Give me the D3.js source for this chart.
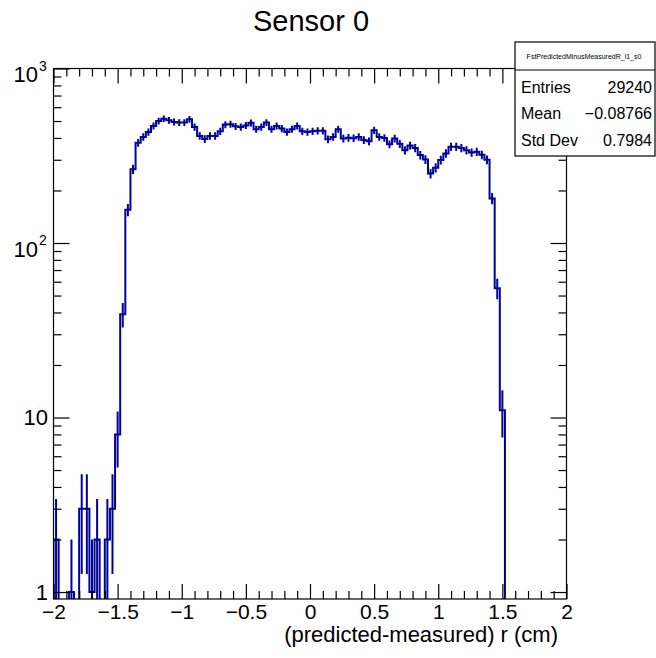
<html>
  <head>
    <meta http-equiv="Content-Type" content="text/html; charset=UTF-8" />
    <title>Sensor 0</title>
    <script src="https://d3js.org/d3.v7.min.js"></script>
    <style>
      body { margin: 0; background: #ffffff; }
      text { font-family: "Liberation Sans", Arial, Helvetica, sans-serif; fill: #000; }
    </style>
  </head>
  <body>
    <div id="chart"></div>
    <script type="text/javascript">
    // histogram: 100 bins between -2 and 2 (cm)
    var binLow = -2, binHigh = 2;
    var counts = [
      2, 0, 0, 1, 0, 3, 3, 1, 2, 0,
      2, 3, 8, 39, 155, 265, 375, 405, 433, 469,
      500, 516, 505, 494, 490, 490, 512, 462, 411, 394,
      411, 411, 437, 477, 480, 466, 462, 472, 488, 449,
      462, 490, 449, 469, 453, 433, 449, 469, 437, 433,
      437, 440, 440, 393, 405, 449, 397, 401, 399, 405,
      389, 383, 443, 405, 400, 368, 397, 370, 340, 362,
      350, 319, 301, 250, 270, 299, 326, 356, 356, 350,
      340, 330, 333, 320, 300, 180, 55, 11, 0, 0,
      0, 0, 0, 0, 0, 0, 0, 0, 0, 0
    ];

    var xMajorTicks = [-2, -1.5, -1, -0.5, 0, 0.5, 1, 1.5, 2];
    var xTickLabels = ["\u22122", "\u22121.5", "\u22121", "\u22120.5", "0", "0.5", "1", "1.5", "2"];
    var yMajorTicks = [1, 10, 100, 1000];
    var yTickBase = ["1", "10", "10", "10"];
    var yTickExp = ["", "", "2", "3"];

    var histName = "FstPredictedMinusMeasuredR_l1_s0";
    var statNames = ["Entries", "Mean", "Std Dev"];
    var statValues = ["29240", "\u22120.08766", "0.7984"];

    var W = 656, H = 658;
    var pLeft = 53.5, pRight = 566.5, pTop = 68.5, pBottom = 599;
    var yMin = 0.912, yMax = 1000;
    var lineColor = "#00009a";

    var svg = d3.select("#chart").append("svg")
      .attr("width", W)
      .attr("height", H);

    var x = d3.scaleLinear().domain([binLow, binHigh]).range([pLeft, pRight]);
    var y = d3.scaleLog().domain([yMin, yMax]).range([pBottom, pTop]);

    // title
    svg.append("text")
      .attr("x", 311)
      .attr("y", 31)
      .attr("text-anchor", "middle")
      .style("font-size", "29px")
      .text("Sensor 0");

    svg.append("clipPath").attr("id", "plotclip")
      .append("rect")
      .attr("x", pLeft).attr("y", pTop)
      .attr("width", pRight - pLeft).attr("height", pBottom - pTop);

    var plot = svg.append("g").attr("clip-path", "url(#plotclip)");

    var bw = (binHigh - binLow) / counts.length;
    function yc(v) { return v > 0 ? Math.min(y(v), pBottom + 2) : pBottom + 2; }

    // step outline
    var d = "M" + x(binLow) + "," + (pBottom + 2);
    counts.forEach(function(c, i) {
      d += "V" + yc(c) + "H" + x(binLow + (i + 1) * bw);
    });
    d += "V" + (pBottom + 2);
    plot.append("path")
      .attr("d", d)
      .attr("fill", "none")
      .attr("stroke", lineColor)
      .attr("stroke-width", 2);

    // error bars (sqrt N)
    plot.selectAll("line.err")
      .data(counts.map(function(c, i) { return {c: c, i: i}; }).filter(function(e) { return e.c > 0; }))
      .enter().append("line")
      .attr("class", "err")
      .attr("x1", function(e) { return x(binLow + (e.i + 0.5) * bw); })
      .attr("x2", function(e) { return x(binLow + (e.i + 0.5) * bw); })
      .attr("y1", function(e) { return yc(e.c + Math.sqrt(e.c)); })
      .attr("y2", function(e) { return yc(e.c - Math.sqrt(e.c)); })
      .attr("stroke", lineColor)
      .attr("stroke-width", 2);

    // frame
    svg.append("rect")
      .attr("x", pLeft).attr("y", pTop)
      .attr("width", pRight - pLeft).attr("height", pBottom - pTop)
      .attr("fill", "none")
      .attr("stroke", "#000")
      .attr("stroke-width", 1.2);

    function styleAxis(g) {
      g.select(".domain").remove();
      g.selectAll(".tick line").attr("stroke", "#000").attr("stroke-width", 1.2);
    }

    var xMinor = x.ticks(40).filter(function(t) { return xMajorTicks.indexOf(+t.toFixed(2)) < 0; });
    var yMinor = y.ticks().filter(function(t) { return yMajorTicks.indexOf(t) < 0 && t >= 1; });

    // x axis bottom
    svg.append("g").attr("transform", "translate(0," + pBottom + ")")
      .call(d3.axisBottom(x).tickValues(xMajorTicks).tickSize(-15).tickPadding(5)
        .tickFormat(function(d, i) { return xTickLabels[i]; }))
      .call(styleAxis)
      .selectAll("text").style("font-size", "21px").attr("fill", "#000");
    svg.append("g").attr("transform", "translate(0," + pBottom + ")")
      .call(d3.axisBottom(x).tickValues(xMinor).tickSize(-8).tickFormat(""))
      .call(styleAxis);
    // x axis top
    svg.append("g").attr("transform", "translate(0," + pTop + ")")
      .call(d3.axisTop(x).tickValues(xMajorTicks).tickSize(-15).tickFormat(""))
      .call(styleAxis);
    svg.append("g").attr("transform", "translate(0," + pTop + ")")
      .call(d3.axisTop(x).tickValues(xMinor).tickSize(-8).tickFormat(""))
      .call(styleAxis);

    // y axis left / right
    svg.append("g").attr("transform", "translate(" + pLeft + ",0)")
      .call(d3.axisLeft(y).tickValues(yMajorTicks).tickSize(-16).tickFormat(""))
      .call(styleAxis);
    svg.append("g").attr("transform", "translate(" + pLeft + ",0)")
      .call(d3.axisLeft(y).tickValues(yMinor).tickSize(-8).tickFormat(""))
      .call(styleAxis);
    svg.append("g").attr("transform", "translate(" + pRight + ",0)")
      .call(d3.axisRight(y).tickValues(yMajorTicks).tickSize(-16).tickFormat(""))
      .call(styleAxis);
    svg.append("g").attr("transform", "translate(" + pRight + ",0)")
      .call(d3.axisRight(y).tickValues(yMinor).tickSize(-8).tickFormat(""))
      .call(styleAxis);

    // y tick labels, ROOT style 10^n
    yMajorTicks.forEach(function(t, i) {
      var ty = y(t);
      if (yTickExp[i] === "") {
        svg.append("text")
          .attr("x", 48).attr("y", ty + 7.5)
          .attr("text-anchor", "end")
          .style("font-size", "22px")
          .text(yTickBase[i]);
      } else {
        svg.append("text")
          .attr("x", 38).attr("y", ty + 13.5)
          .attr("text-anchor", "end")
          .style("font-size", "22px")
          .text(yTickBase[i]);
        svg.append("text")
          .attr("x", 39).attr("y", ty + 2)
          .style("font-size", "14px")
          .text(yTickExp[i]);
      }
    });

    // x title
    svg.append("text")
      .attr("x", 558).attr("y", 642)
      .attr("text-anchor", "end")
      .style("font-size", "22px")
      .text("(predicted-measured) r (cm)");

    // stats box
    var sb = svg.append("g");
    sb.append("rect")
      .attr("x", 515).attr("y", 42)
      .attr("width", 140).attr("height", 114)
      .attr("fill", "#fff")
      .attr("stroke", "#000")
      .attr("stroke-width", 1.2);
    sb.append("line")
      .attr("x1", 515).attr("x2", 655)
      .attr("y1", 70).attr("y2", 70)
      .attr("stroke", "#000").attr("stroke-width", 1.2);
    sb.append("text")
      .attr("x", 584).attr("y", 59)
      .attr("text-anchor", "middle")
      .style("font-size", "7px")
      .text(histName);
    var rowY = [93, 119, 146];
    statNames.forEach(function(n, i) {
      sb.append("text")
        .attr("x", 521).attr("y", rowY[i])
        .style("font-size", "16px")
        .text(n);
      sb.append("text")
        .attr("x", 652).attr("y", rowY[i])
        .attr("text-anchor", "end")
        .style("font-size", "16px")
        .text(statValues[i]);
    });
    </script>
  </body>
</html>
